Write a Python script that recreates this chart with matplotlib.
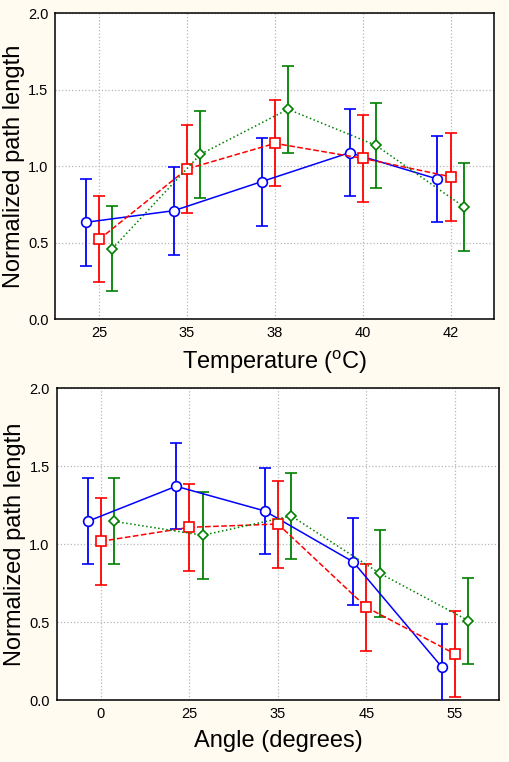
import matplotlib
matplotlib.use('Agg')
import matplotlib.pyplot as plt
import numpy as np

plt.rcParams['font.family'] = ['Liberation Sans', 'DejaVu Sans']
plt.rcParams['mathtext.fontset'] = 'custom'
plt.rcParams['mathtext.rm'] = 'Liberation Sans'

# Temperature panel
temp_labels = ["25", "35", "38", "40", "42"]
temp_blue = [0.634, 0.710, 0.900, 1.089, 0.917]
temp_blue_err = [0.286, 0.288, 0.288, 0.285, 0.283]
temp_red = [0.523, 0.983, 1.150, 1.052, 0.932]
temp_red_err = [0.280, 0.287, 0.281, 0.284, 0.287]
temp_green = [0.462, 1.078, 1.373, 1.137, 0.736]
temp_green_err = [0.280, 0.283, 0.283, 0.280, 0.288]

# Angle panel
angle_labels = ["0", "25", "35", "45", "55"]
angle_blue = [1.147, 1.372, 1.214, 0.887, 0.214]
angle_blue_err = [0.275, 0.277, 0.274, 0.279, 0.275]
angle_red = [1.019, 1.109, 1.130, 0.596, 0.297]
angle_red_err = [0.279, 0.278, 0.279, 0.277, 0.276]
angle_green = [1.147, 1.058, 1.182, 0.814, 0.511]
angle_green_err = [0.275, 0.278, 0.276, 0.278, 0.276]

bg = '#fffbf0'
fig = plt.figure(figsize=(5.10, 7.62), dpi=100, facecolor=bg)


def draw_panel(ax, labels, blue, blue_err, red, red_err, green, green_err, xlabel):
    x = np.arange(len(labels))
    series = [
        (x - 0.15, blue, blue_err, '#0000ff', '-', 'o', 7),
        (x, red, red_err, '#ff0000', '--', 's', 7.5),
        (x + 0.15, green, green_err, '#008000', ':', 'D', 5.5),
    ]
    for xs, ys, es, col, ls, mk, ms in series:
        ax.errorbar(xs, ys, yerr=es, color=col, linestyle=ls, linewidth=1.1,
                    marker=mk, markersize=ms, markerfacecolor='white',
                    markeredgecolor=col, markeredgewidth=1.2,
                    elinewidth=1.3, capsize=4, capthick=1.3, zorder=3)
    ax.set_xlim(-0.5, 4.5)
    ax.set_ylim(0, 2.0)
    ax.set_xticks(x)
    ax.set_xticklabels(labels)
    ax.set_yticks([0.0, 0.5, 1.0, 1.5, 2.0])
    ax.set_yticklabels(['0.0', '0.5', '1.0', '1.5', '2.0'])
    ax.tick_params(length=0, labelsize=10.5, pad=5)
    ax.grid(True, color='#b8b8b8', linestyle=':', linewidth=0.9)
    ax.set_axisbelow(True)
    for s in ax.spines.values():
        s.set_linewidth(1.1)
    ax.set_ylabel('Normalized path length', fontsize=17, labelpad=2)
    ax.set_xlabel(xlabel, fontsize=17, labelpad=6)


ax1 = fig.add_axes([0.1085, 0.581, 0.861, 0.4015])
draw_panel(ax1, temp_labels, temp_blue, temp_blue_err, temp_red, temp_red_err,
           temp_green, temp_green_err, r'Temperature ($^{\rm o}$C)')

ax2 = fig.add_axes([0.111, 0.081, 0.868, 0.4094])
draw_panel(ax2, angle_labels, angle_blue, angle_blue_err, angle_red, angle_red_err,
           angle_green, angle_green_err, 'Angle (degrees)')

fig.savefig('out.png', dpi=100, facecolor=bg)
